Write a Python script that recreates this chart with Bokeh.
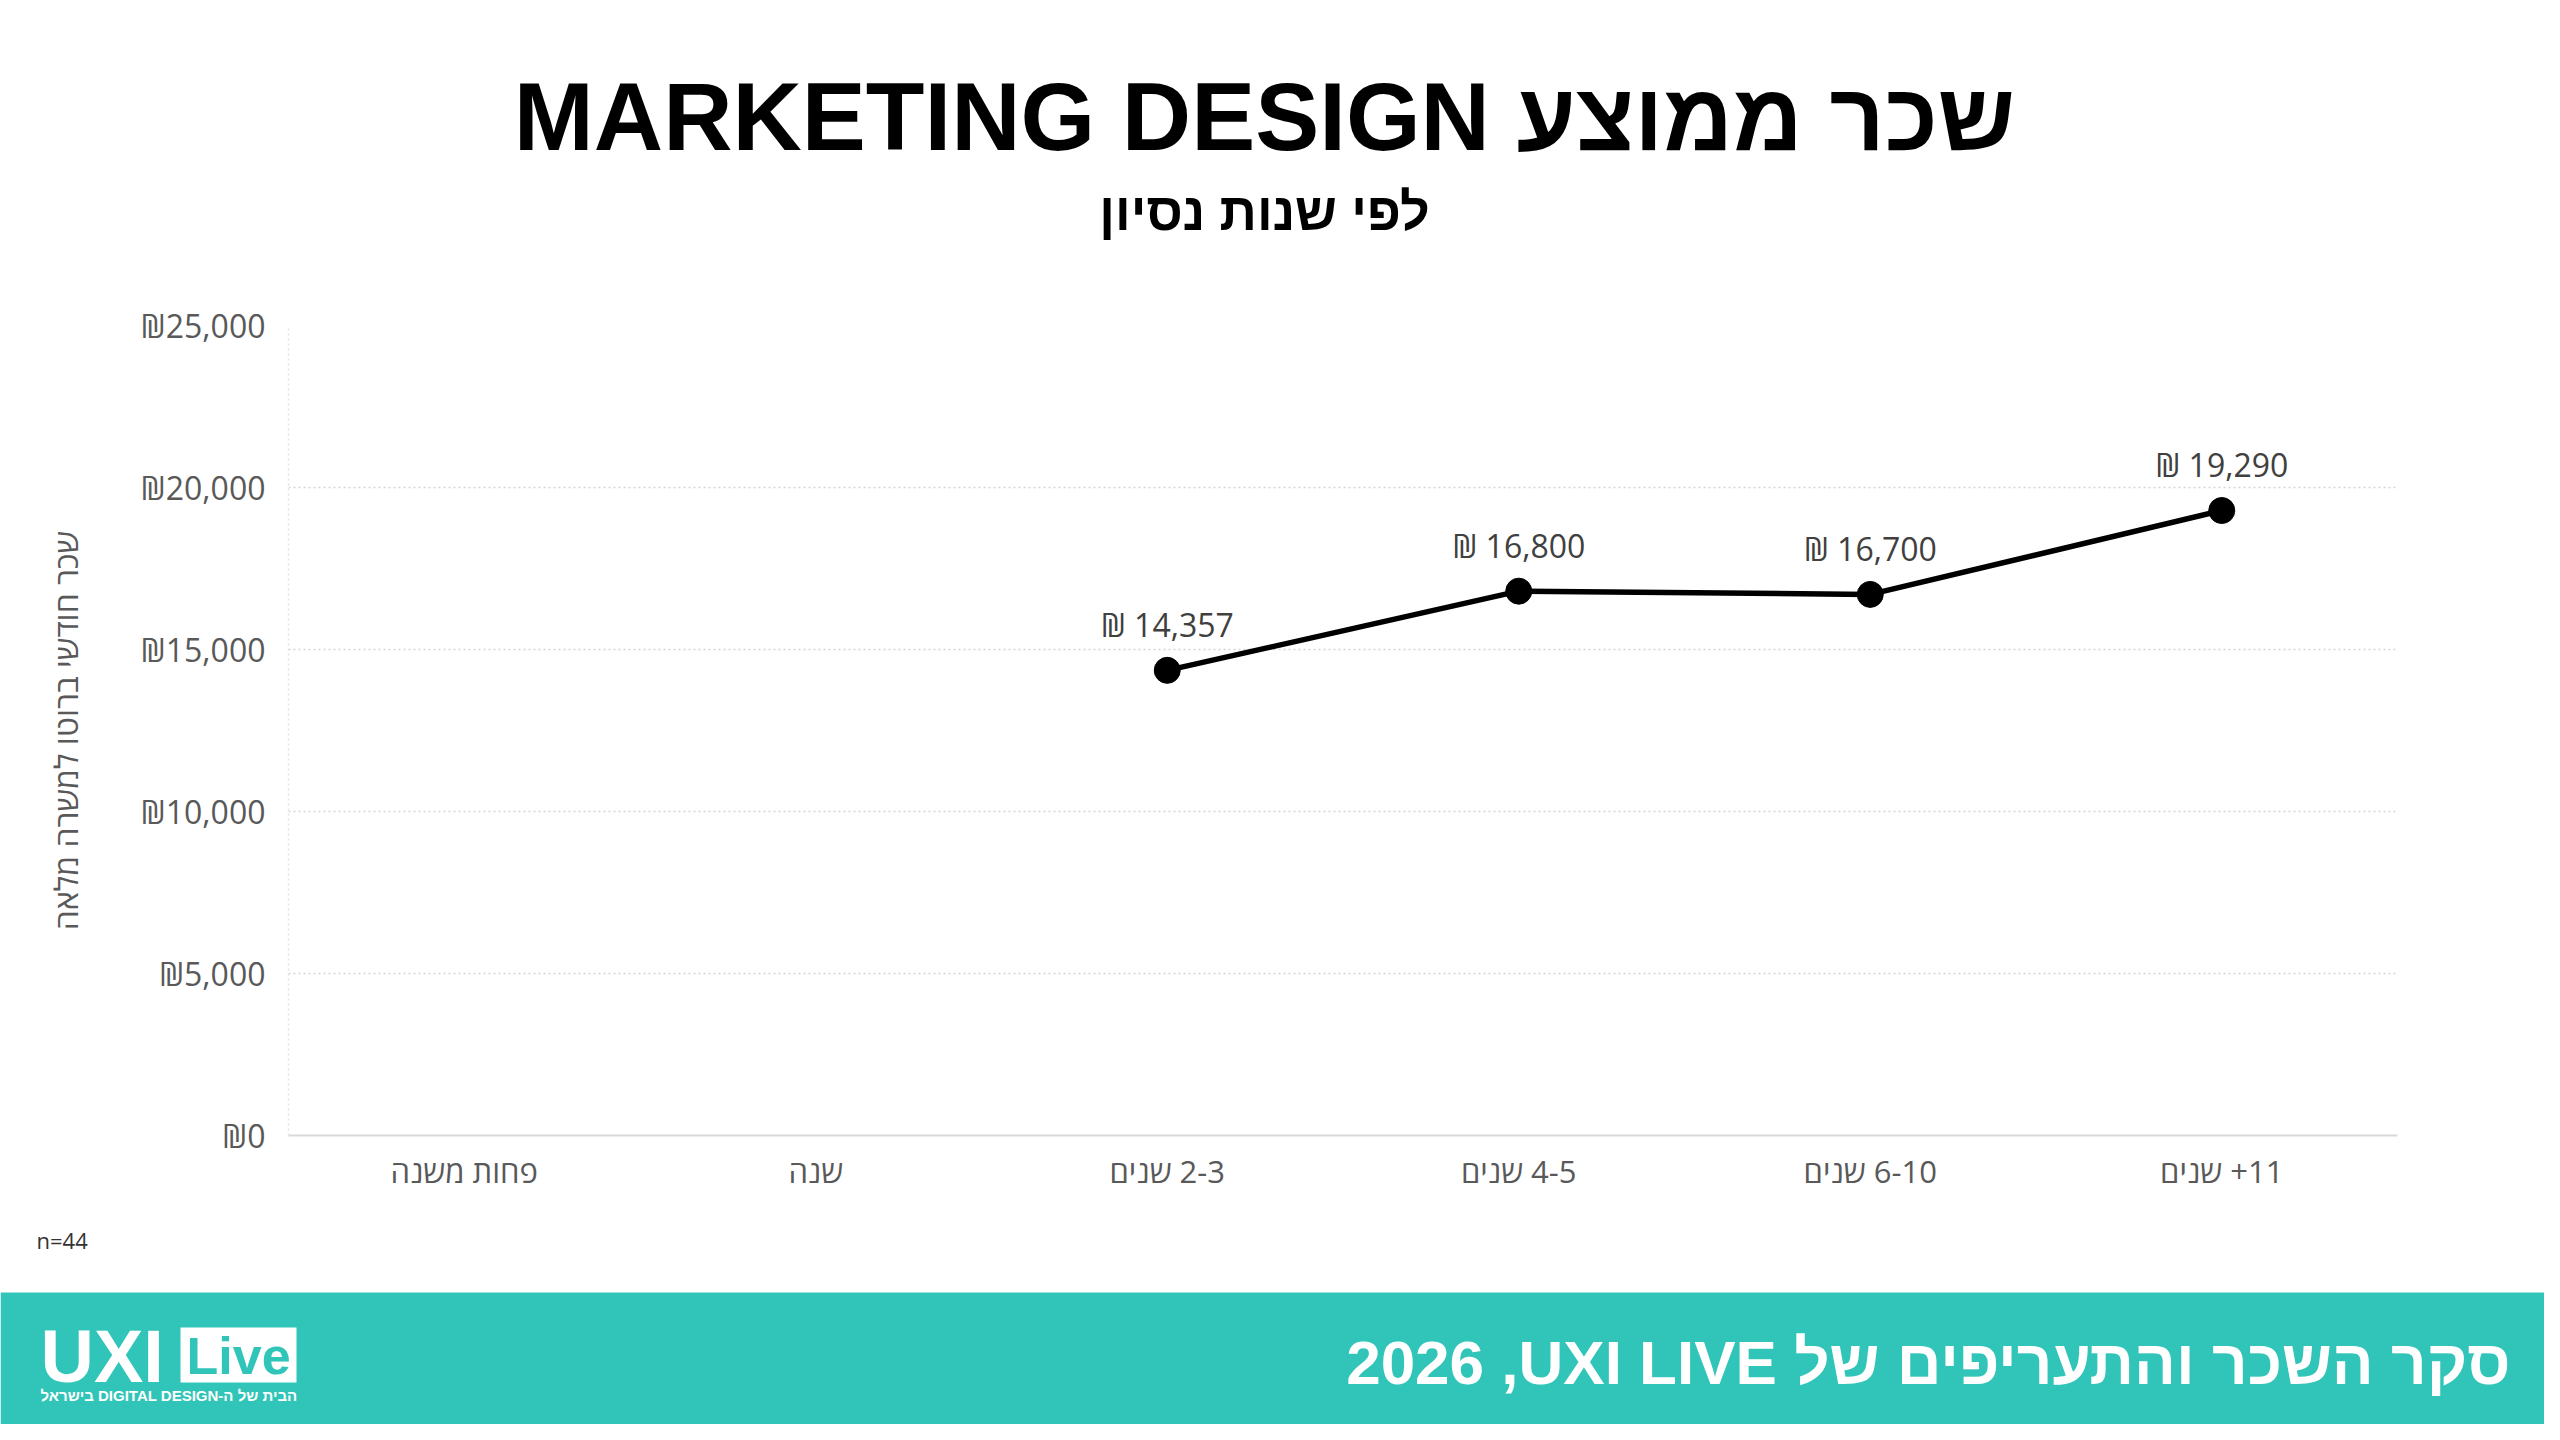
from bokeh.plotting import figure
from bokeh.models import FactorRange, Range1d, ColumnDataSource, FixedTicker
from bokeh.layouts import column
from bokeh.embed import file_html
from bokeh.resources import INLINE
from bokeh.core.properties import value

# ---------------- data ----------------
title_text = "שכר ממוצע MARKETING DESIGN"
subtitle_text = "לפי שנות נסיון"
y_axis_title = "שכר חודשי ברוטו למשרה מלאה"
footer_text = "סקר השכר והתעריפים של UXI LIVE\u200f, 2026"
logo_word = "UXI"
logo_box_word = "Live"
logo_tagline = "הבית של ה-DIGITAL DESIGN בישראל"
sample_note = "n=44"

categories = ["פחות משנה", "שנה", "2-3 שנים", "4-5 שנים", "6-10 שנים", "11+ שנים"]
salary = [None, None, 14357, 16800, 16700, 19290]
y_ticks = [0, 5000, 10000, 15000, 20000, 25000]
y_tick_labels = ["₪0", "₪5,000", "₪10,000", "₪15,000", "₪20,000", "₪25,000"]

# ---------------- helpers ----------------
RLE, PDF = "\u202b", "\u202c"


def rtl(s):
    return RLE + s + PDF


FONT_NAME = "Open Sans"
HFONT_NAME = "Liberation Sans"
FONT = value(FONT_NAME)
HFONT = value(HFONT_NAME)
TEAL = "#30C5B8"
W = 2544


def blank_figure(height):
    fig = figure(width=W, height=height, x_range=Range1d(0, W), y_range=Range1d(0, height),
                 x_axis_type=None, y_axis_type=None, output_backend="svg",
                 toolbar_location=None, min_border=0)
    fig.frame_align = False
    fig.outline_line_color = None
    fig.background_fill_color = "white"
    fig.border_fill_color = "white"
    fig.xgrid.visible = False
    fig.ygrid.visible = False
    return fig


# ---------------- header ----------------
HEADER_H = 292
h = blank_figure(HEADER_H)
h.text(x=[W / 2 - 8], y=[HEADER_H - 116], text=[rtl(title_text)], text_align="center",
       text_baseline="middle", text_font=HFONT, text_font_size="96px",
       text_font_style="bold", text_color="black")
h.text(x=[W / 2 - 8], y=[HEADER_H - 211], text=[rtl(subtitle_text)], text_align="center",
       text_baseline="middle", text_font=HFONT, text_font_size="52px",
       text_font_style="bold", text_color="black")

# ---------------- main chart ----------------
disp_cats = [rtl(c) for c in categories]
pts = [(c, v) for c, v in zip(disp_cats, salary) if v is not None]
src = ColumnDataSource(dict(
    cat=[c for c, _ in pts],
    val=[v for _, v in pts],
    label=["₪ {:,}".format(v) for _, v in pts],
))

p = figure(width=W, height=920,
           x_range=FactorRange(factors=disp_cats, range_padding=0),
           y_range=Range1d(y_ticks[0], y_ticks[-1]),
           output_backend="svg", toolbar_location=None,
           min_border_left=288, min_border_right=147,
           min_border_top=33, min_border_bottom=77)
p.frame_align = False
p.outline_line_color = None
p.background_fill_color = "white"
p.border_fill_color = "white"

p.xgrid.grid_line_color = None
p.ygrid.ticker = FixedTicker(ticks=y_ticks)
p.ygrid.grid_line_color = "#d4d4d4"
p.ygrid.grid_line_dash = "2 3"
p.ygrid.grid_line_width = 1.5

p.yaxis.ticker = FixedTicker(ticks=y_ticks)
p.yaxis.major_label_overrides = dict(zip(y_ticks, y_tick_labels))
p.yaxis.axis_line_color = "#e2e2e2"
p.yaxis.axis_line_dash = "2 3"
p.yaxis.axis_line_width = 1.5
p.yaxis.major_tick_line_color = None
p.yaxis.major_tick_out = 0
p.yaxis.major_tick_in = 0
p.yaxis.minor_tick_line_color = None
p.yaxis.minor_tick_out = 0
p.yaxis.major_label_text_font = FONT_NAME
p.yaxis.major_label_text_font_size = "32px"
p.yaxis.major_label_text_color = "#595959"
p.yaxis.major_label_standoff = 23
p.yaxis.axis_label = y_axis_title
p.yaxis.axis_label_text_font = FONT_NAME
p.yaxis.axis_label_text_font_size = "32px"
p.yaxis.axis_label_text_font_style = "normal"
p.yaxis.axis_label_text_color = "#595959"
p.yaxis.axis_label_standoff = 51

p.xaxis.axis_line_color = "#d9d9d9"
p.xaxis.axis_line_width = 2
p.xaxis.major_tick_line_color = None
p.xaxis.major_tick_out = 0
p.xaxis.major_tick_in = 0
p.xaxis.minor_tick_line_color = None
p.xaxis.major_label_text_font = FONT_NAME
p.xaxis.major_label_text_font_size = "31px"
p.xaxis.major_label_text_color = "#595959"
p.xaxis.major_label_standoff = 14

p.line(x="cat", y="val", source=src, line_width=5.5, line_color="black")
p.scatter(x="cat", y="val", source=src, size=26, fill_color="black", line_color="black")
p.text(x="cat", y="val", text="label", source=src, text_align="center",
       text_baseline="middle", y_offset=-46, text_font=FONT,
       text_font_size="32px", text_color="#404040")

# ---------------- footer ----------------
FOOT_H = 212
BAND_H = 132
f = blank_figure(FOOT_H)
f.quad(left=[0], right=[W], bottom=[0], top=[BAND_H], fill_color=TEAL, line_color=None)
f.text(x=[36], y=[FOOT_H - 27], text=[sample_note], text_align="left", text_baseline="middle",
       text_font=FONT, text_font_size="22px", text_color="#333333")

f.text(x=[40], y=[68], text=[logo_word], text_align="left", text_baseline="middle",
       text_font=HFONT, text_font_size="74px", text_font_style="bold", text_color="white")
f.quad(left=[180], right=[296], bottom=[42], top=[97], fill_color="white", line_color=None)
f.text(x=[186], y=[69], text=[logo_box_word], text_align="left", text_baseline="middle",
       text_font=HFONT, text_font_size="52px", text_font_style="bold", text_color=TEAL)
f.text(x=[40], y=[29], text=[rtl(logo_tagline)], text_align="left", text_baseline="middle",
       text_font=HFONT, text_font_size="15px", text_font_style="bold", text_color="white")
f.text(x=[2510], y=[62], text=[rtl(footer_text)], text_align="right", text_baseline="middle",
       text_font=HFONT, text_font_size="62px", text_font_style="bold", text_color="white")

layout = column(h, p, f, spacing=0)
open("out.html", "w").write(file_html(layout, INLINE))
